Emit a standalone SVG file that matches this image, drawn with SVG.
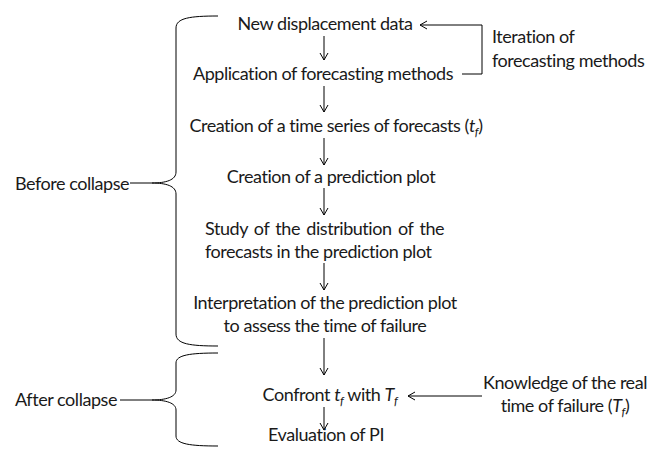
<svg xmlns="http://www.w3.org/2000/svg" width="653" height="450" viewBox="0 0 653 450">
<defs>
<marker id="ah" markerWidth="10" markerHeight="10" refX="8" refY="5" orient="auto" markerUnits="userSpaceOnUse">
<path d="M1,1 L8,5 L1,9" fill="none" stroke="#000" stroke-width="1"/>
</marker>
<style>
text{font-family:Lato,"Open Sans","Liberation Sans",sans-serif;font-size:18px;fill:#1a1a1a;letter-spacing:-0.45px}
.c{text-anchor:middle}
.i{font-style:italic}
.sub{font-style:italic;font-size:12px}
.ln{fill:none;stroke:#000;stroke-width:1}
.ar{fill:none;stroke:#000;stroke-width:1;marker-end:url(#ah)}
</style>
</defs>
<rect width="653" height="450" fill="#fff"/>
<g id="connectors">
<path class="ar" d="M324,36 V60"/>
<path class="ar" d="M324,86 V112"/>
<path class="ar" d="M324,138 V165"/>
<path class="ar" d="M324,188 V215"/>
<path class="ar" d="M324,263 V290"/>
<path class="ar" d="M324,338 V375"/>
<path class="ar" d="M324,407 V430"/>
<path class="ar" d="M462,74 H482 V25 H420"/>
<path class="ar" d="M482,396 H408"/>
</g>
<g id="brace-before">
<path class="ln" d="M218,16 C190,16 176,18 176,28 L176,172 C176,180 166,183 152,183 C166,183 176,186 176,194 L176,334 C176,344 190,346 218,346"/>
<path class="ln" d="M130,183 H152"/>
<text x="15" y="190">Before collapse</text>
</g>
<g id="brace-after">
<path class="ln" d="M218,353 C190,353 176,355 176,363 L176,390 C176,397 166,400 152,400 C166,400 176,403 176,410 L176,436 C176,444 190,446 218,446"/>
<path class="ln" d="M120,400 H152"/>
<text x="15" y="406">After collapse</text>
</g>
<g id="n1"><text class="c" x="325" y="30">New displacement data</text></g>
<g id="n2"><text class="c" x="323" y="80">Application of forecasting methods</text></g>
<g id="n3"><text class="c" x="336" y="132">Creation of a time series of forecasts (<tspan class="i">t</tspan><tspan class="sub" dy="4">f</tspan><tspan dy="-4">)</tspan></text></g>
<g id="n4"><text class="c" x="331" y="183">Creation of a prediction plot</text></g>
<g id="n5"><text x="205" y="235" style="word-spacing:2.2px">Study of the distribution of the</text><text x="205" y="258">forecasts in the prediction plot</text></g>
<g id="n6"><text class="c" x="325" y="309">Interpretation of the prediction plot</text><text class="c" x="325" y="332">to assess the time of failure</text></g>
<g id="n7"><text class="c" x="330" y="401">Confront <tspan class="i">t</tspan><tspan class="sub" dy="4">f</tspan><tspan dy="-4"> with </tspan><tspan class="i">T</tspan><tspan class="sub" dy="4">f</tspan></text></g>
<g id="n8"><text class="c" x="326" y="441">Evaluation of PI</text></g>
<g id="iter"><text x="492" y="43">Iteration of</text><text x="492" y="67">forecasting methods</text></g>
<g id="know"><text class="c" x="565" y="389">Knowledge of the real</text><text class="c" x="565" y="412">time of failure (<tspan class="i">T</tspan><tspan class="sub" dy="4">f</tspan><tspan dy="-4">)</tspan></text></g>
</svg>
